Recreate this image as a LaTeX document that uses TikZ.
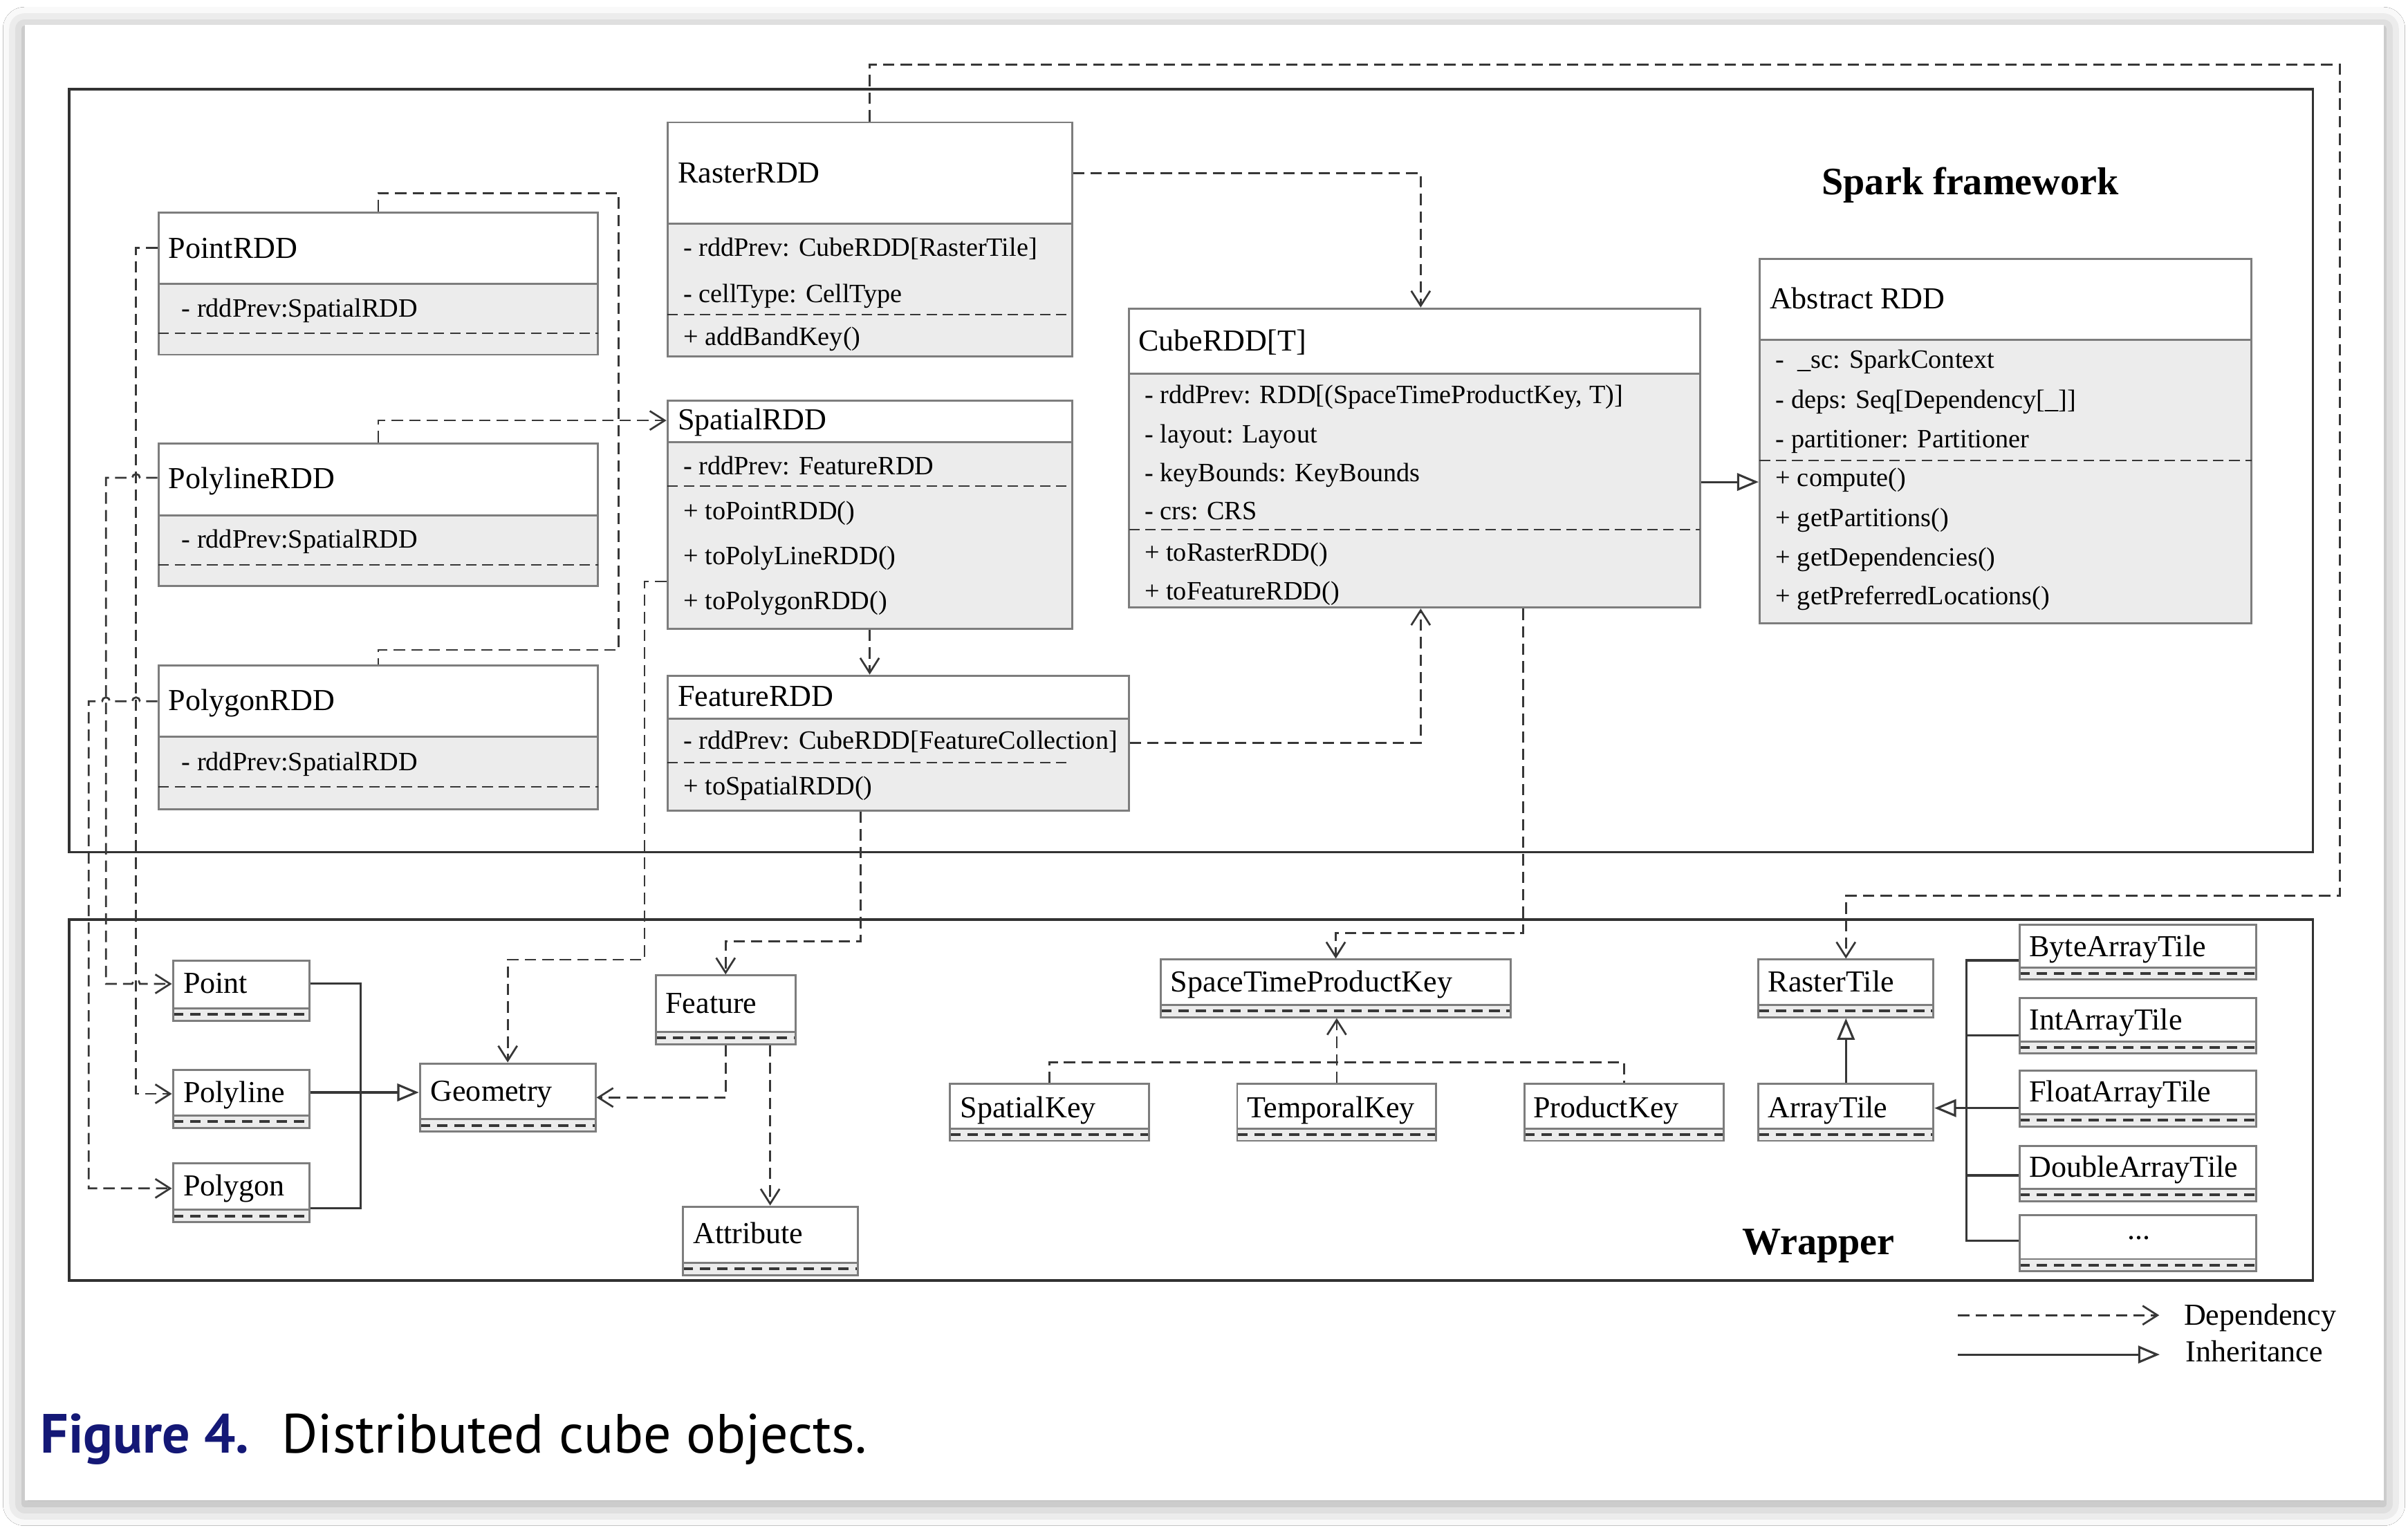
\documentclass[tikz,border=0pt]{standalone}
\usepackage{fontspec}
\setmainfont{Liberation Serif}
\newfontfamily\capfont{PT Sans}
\usetikzlibrary{arrows.meta,calc,fit,shadows.blur}
\definecolor{boxgray}{RGB}{125,125,125}
\definecolor{attrgray}{RGB}{236,236,236}
\definecolor{framegray}{RGB}{50,50,50}
\definecolor{linegray}{RGB}{55,55,55}
\definecolor{capblue}{RGB}{20,24,118}

\begin{document}
\begin{tikzpicture}[x=0.02cm,y=-0.02cm,
  frm/.style={draw=framegray,line width=0.9pt,inner sep=0pt},
  cls/.style={draw=boxgray,line width=0.75pt,inner sep=0pt},
  sepline/.style={draw=boxgray,line width=0.75pt},
  memdash/.style={draw=linegray,line width=0.6pt,dash pattern=on 3.9pt off 2.1pt},
  banddash/.style={draw=linegray,line width=1pt,dash pattern=on 3.9pt off 2.5pt},
  wrapbox/.style={cls,path picture={
    \fill[attrgray] ([yshift=0.16cm]path picture bounding box.south west) rectangle (path picture bounding box.south east);
    \draw[sepline] ([yshift=0.16cm]path picture bounding box.south west) -- ([yshift=0.16cm]path picture bounding box.south east);
    \draw[banddash] ([yshift=0.08cm]path picture bounding box.south west) -- ([yshift=0.08cm]path picture bounding box.south east);}},
  ttl/.style={anchor=base west,inner sep=0pt,font=\fontsize{11.3}{13.6}\selectfont},
  mem/.style={anchor=base west,inner sep=0pt,font=\fontsize{9.8}{11.8}\selectfont},
  hdr/.style={anchor=base west,inner sep=0pt,font=\fontsize{14.4}{17}\selectfont\bfseries},
  depline/.style={draw=linegray,line width=0.7pt,dash pattern=on 4.2pt off 2.3pt},
  dep/.style={depline,-{Straight Barb[length=5.5pt,width=7pt]}},
  inhline/.style={draw=linegray,line width=0.8pt},
  inh/.style={inhline,-{Triangle[open,length=8pt,width=6.5pt]}},
]
\useasboundingbox (0,0) rectangle (1568,995);
\fill[white] (0,0) rectangle (1568,995);
\fill[white,blur shadow={shadow xshift=0pt,shadow yshift=-1.5pt,shadow blur radius=8pt,shadow opacity=40}] (16,16) rectangle (1552,977);

\node[frm,fit={(45,58) (1506,555)}] (spark) {};
\node[frm,fit={(45,599) (1506,834)}] (wrapper) {};
\node[hdr] (spark-t) at (1186,126.8) {Spark framework};
\node[hdr] (wrapper-t) at (1134,817) {Wrapper};

\fill[attrgray] (434.6,145.5) rectangle (698,232);
\node[cls,fit={(434.6,79.7) (698,232)}] (rasterrdd) {};
\draw[sepline] (434.6,145.5) -- (698,145.5);
\draw[memdash] (434.6,205) -- (698,205);
\node[ttl] (rasterrdd-t) at (441,118.9) {RasterRDD};
\node[mem] (rasterrdd-a1) at (444.7,167) {- rddPrev: CubeRDD[RasterTile]};
\node[mem] (rasterrdd-a2) at (444.7,196.8) {- cellType: CellType};
\node[mem] (rasterrdd-m1) at (444.7,225) {+ addBandKey()};

\fill[attrgray] (103.2,185) rectangle (389.5,231);
\node[cls,fit={(103.2,138.3) (389.5,231)}] (pointrdd) {};
\draw[sepline] (103.2,185) -- (389.5,185);
\draw[memdash] (103.2,217) -- (389.5,217);
\node[ttl] (pointrdd-t) at (109.5,168) {PointRDD};
\node[mem] (pointrdd-a1) at (118,206.4) {- rddPrev:SpatialRDD};

\fill[attrgray] (103.2,335.5) rectangle (389.5,381.6);
\node[cls,fit={(103.2,288.7) (389.5,381.6)}] (polylinerdd) {};
\draw[sepline] (103.2,335.5) -- (389.5,335.5);
\draw[memdash] (103.2,368) -- (389.5,368);
\node[ttl] (polylinerdd-t) at (109.5,318) {PolylineRDD};
\node[mem] (polylinerdd-a1) at (118,357) {- rddPrev:SpatialRDD};

\fill[attrgray] (103.2,480) rectangle (389.5,527);
\node[cls,fit={(103.2,433.3) (389.5,527)}] (polygonrdd) {};
\draw[sepline] (103.2,480) -- (389.5,480);
\draw[memdash] (103.2,512.5) -- (389.5,512.5);
\node[ttl] (polygonrdd-t) at (109.5,462.5) {PolygonRDD};
\node[mem] (polygonrdd-a1) at (118,502) {- rddPrev:SpatialRDD};

\fill[attrgray] (434.6,287.8) rectangle (698,409.5);
\node[cls,fit={(434.6,260.8) (698,409.5)}] (spatialrdd) {};
\draw[sepline] (434.6,287.8) -- (698,287.8);
\draw[memdash] (434.6,316.6) -- (698,316.6);
\node[ttl] (spatialrdd-t) at (441,280) {SpatialRDD};
\node[mem] (spatialrdd-a1) at (444.7,309) {- rddPrev: FeatureRDD};
\node[mem] (spatialrdd-m1) at (444.7,338.3) {+ toPointRDD()};
\node[mem] (spatialrdd-m2) at (444.7,367.5) {+ toPolyLineRDD()};
\node[mem] (spatialrdd-m3) at (444.7,396.8) {+ toPolygonRDD()};

\fill[attrgray] (434.6,468) rectangle (735,528);
\node[cls,fit={(434.6,440) (735,528)}] (featurerdd) {};
\draw[sepline] (434.6,468) -- (735,468);
\draw[memdash] (434.6,496.7) -- (697,496.7);
\node[ttl] (featurerdd-t) at (441,459.8) {FeatureRDD};
\node[mem] (featurerdd-a1) at (444.7,488) {- rddPrev: CubeRDD[FeatureCollection]};
\node[mem] (featurerdd-m1) at (444.7,517.5) {+ toSpatialRDD()};

\fill[attrgray] (735.2,243.2) rectangle (1107,395.7);
\node[cls,fit={(735.2,200.9) (1107,395.7)}] (cuberdd) {};
\draw[sepline] (735.2,243.2) -- (1107,243.2);
\draw[memdash] (735.2,345) -- (1107,345);
\node[ttl] (cuberdd-t) at (741,228.4) {CubeRDD[T]};
\node[mem] (cuberdd-a1) at (745,262.8) {- rddPrev: RDD[(SpaceTimeProductKey, T)]};
\node[mem] (cuberdd-a2) at (745,288.3) {- layout: Layout};
\node[mem] (cuberdd-a3) at (745,313.5) {- keyBounds: KeyBounds};
\node[mem] (cuberdd-a4) at (745,338.6) {- crs: CRS};
\node[mem] (cuberdd-m1) at (745,365.3) {+ toRasterRDD()};
\node[mem] (cuberdd-m2) at (745,390.5) {+ toFeatureRDD()};

\fill[attrgray] (1145.8,221.2) rectangle (1466,405.8);
\node[cls,fit={(1145.8,168.6) (1466,405.8)}] (abstractrdd) {};
\draw[sepline] (1145.8,221.2) -- (1466,221.2);
\draw[memdash] (1145.8,299.9) -- (1466,299.9);
\node[ttl] (abstractrdd-t) at (1152,200.9) {Abstract RDD};
\node[mem] (abstractrdd-a1) at (1156,239.9) {-\ \ \_sc: SparkContext};
\node[mem] (abstractrdd-a2) at (1156,266) {- deps: Seq[Dependency[\_]]};
\node[mem] (abstractrdd-a3) at (1156,291.4) {- partitioner: Partitioner};
\node[mem] (abstractrdd-m1) at (1156,316.8) {+ compute()};
\node[mem] (abstractrdd-m2) at (1156,342.7) {+ getPartitions()};
\node[mem] (abstractrdd-m3) at (1156,368.4) {+ getDependencies()};
\node[mem] (abstractrdd-m4) at (1156,393.8) {+ getPreferredLocations()};

\node[wrapbox,fit={(112.6,625.6) (201.7,664.7)}] (point) {};
\node[ttl] (point-t) at (119,647) {Point};
\node[wrapbox,fit={(112.6,696.7) (201.7,734.5)}] (polyline) {};
\node[ttl] (polyline-t) at (119,718) {Polyline};
\node[wrapbox,fit={(112.6,757.5) (201.7,796)}] (polygon) {};
\node[ttl] (polygon-t) at (119,778.9) {Polygon};
\node[wrapbox,fit={(273.4,692.6) (387.8,737)}] (geometry) {};
\node[ttl] (geometry-t) at (280,717) {Geometry};
\node[wrapbox,fit={(427,635.3) (518,680)}] (feature) {};
\node[ttl] (feature-t) at (433,660) {Feature};
\node[wrapbox,fit={(444.5,785.8) (558.5,830.5)}] (attribute) {};
\node[ttl] (attribute-t) at (451,809.7) {Attribute};
\node[wrapbox,fit={(756,625) (983.6,662.5)}] (stpkey) {};
\node[ttl] (stpkey-t) at (762,645.8) {SpaceTimeProductKey};
\node[wrapbox,fit={(618.7,706) (748.3,743)}] (spatialkey) {};
\node[ttl] (spatialkey-t) at (625,727.8) {SpatialKey};
\node[wrapbox,fit={(805.6,706) (935.2,743)}] (temporalkey) {};
\node[ttl] (temporalkey-t) at (812,727.8) {TemporalKey};
\node[wrapbox,fit={(992.6,706) (1122.3,743)}] (productkey) {};
\node[ttl] (productkey-t) at (998,727.8) {ProductKey};
\node[wrapbox,fit={(1145,625) (1259,662.5)}] (rastertile) {};
\node[ttl] (rastertile-t) at (1151,645.8) {RasterTile};
\node[wrapbox,fit={(1145,706) (1259,743)}] (arraytile) {};
\node[ttl] (arraytile-t) at (1151,727.8) {ArrayTile};
\node[wrapbox,fit={(1315,602.3) (1469.3,638)}] (bytetile) {};
\node[ttl] (bytetile-t) at (1321,622.8) {ByteArrayTile};
\node[wrapbox,fit={(1315,650.2) (1469.3,686.2)}] (inttile) {};
\node[ttl] (inttile-t) at (1321,670.7) {IntArrayTile};
\node[wrapbox,fit={(1315,697.1) (1469.3,733.6)}] (floattile) {};
\node[ttl] (floattile-t) at (1321,717.6) {FloatArrayTile};
\node[wrapbox,fit={(1315,746.2) (1469.3,782.3)}] (doubletile) {};
\node[ttl] (doubletile-t) at (1321,766.7) {DoubleArrayTile};
\node[wrapbox,fit={(1315,791.5) (1469.3,828)}] (moretile) {};
\node[ttl] (moretile-t) at (1385,807) {...};

\draw[depline] (pointrdd.north) |- (402.9,125.7) |- (polygonrdd.north |- 0,423.3) -- (polygonrdd.north);
\draw[dep] (polylinerdd.north) |- ($(spatialrdd.north west)+(0,13.7)$);
\draw[dep] (spatialrdd.south) -- (spatialrdd.south |- featurerdd.north);
\draw[dep] (rasterrdd.east |- 0,112.8) -| ($(cuberdd.north)+(4,0)$);
\draw[dep] (featurerdd.east |- 0,484) -| ($(cuberdd.south)+(4,0)$);
\draw[inh] (cuberdd.east |- 0,313.9) -- (abstractrdd.west |- 0,313.9);
\draw[dep] (rasterrdd.north) |- (1523.5,42) |- (rastertile.north |- 0,583.4) -- (rastertile.north);
\draw[dep] ($(cuberdd.south)+(70.6,0)$) |- (stpkey.north |- 0,607.6) -- (stpkey.north);
\draw[depline] (spatialkey.north) |- (productkey.north |- 0,691.8) -- (productkey.north);
\draw[dep] (temporalkey.north) -- (temporalkey.north |- stpkey.south);
\draw[inh] (arraytile.north) -- (rastertile.south);
\draw[inhline] (bytetile.west |- 0,625.5) -| (1280.3,807.9) -- (moretile.west |- 0,807.9);
\draw[inhline] (inttile.west |- 0,674.2) -- (1280.3,674.2);
\draw[inhline] (doubletile.west |- 0,765.5) -- (1280.3,765.5);
\draw[inh] (floattile.west |- 0,721.7) -- (arraytile.east |- 0,721.7);
\draw[inhline] (point.east |- 0,640.6) -| (235,787) -- (polygon.east |- 0,787);
\draw[inh] (polyline.east |- 0,711.5) -- (geometry.west |- 0,711.5);
\draw[dep] (feature.south) |- (geometry.east);
\draw[dep] (attribute.north |- feature.south) -- (attribute.north);
\draw[dep] ($(featurerdd.south)+(-24.3,0)$) |- (feature.north |- 0,613) -- (feature.north);
\draw[dep] (spatialrdd.west |- 0,378.7) -| (419.7,625) -| (geometry.north);
\draw[dep] (pointrdd.west |- 0,161.3) -| (88.6,712.4) -- (polyline.west |- 0,712.4);
\draw[dep] (polylinerdd.west |- 0,311.2) -- (91.1,311.2) arc[start angle=0,end angle=-180,radius=2.5] -- (69,311.2) -- (69,640.8) -- (86.1,640.8) arc[start angle=180,end angle=360,radius=2.5] -- (point.west |- 0,640.8);
\draw[dep] (polygonrdd.west |- 0,456.7) -- (91.1,456.7) arc[start angle=0,end angle=-180,radius=2.5] -- (71.5,456.7) arc[start angle=0,end angle=-180,radius=2.5] -- (57.8,456.7) -- (57.8,774) -- (polygon.west |- 0,774);

\coordinate (lgdep) at (1275,856.6);
\coordinate (lginh) at (1275,882.2);
\node[ttl] (lgdep-t) at (1421.8,862.8) {Dependency};
\node[ttl] (lginh-t) at (1423,886.8) {Inheritance};
\draw[dep,shorten >=9pt] (lgdep) -- (lgdep -| lgdep-t.west);
\draw[inh,shorten >=9.5pt] (lginh) -- (lginh -| lginh-t.west);

\node[anchor=base west,inner sep=0pt,font=\capfont\fontsize{20.5}{24}\selectfont] (caption) at (26,946.4) {\textcolor{capblue}{\bfseries Figure 4.}\hspace{12pt}Distributed cube objects.};
\end{tikzpicture}
\end{document}
